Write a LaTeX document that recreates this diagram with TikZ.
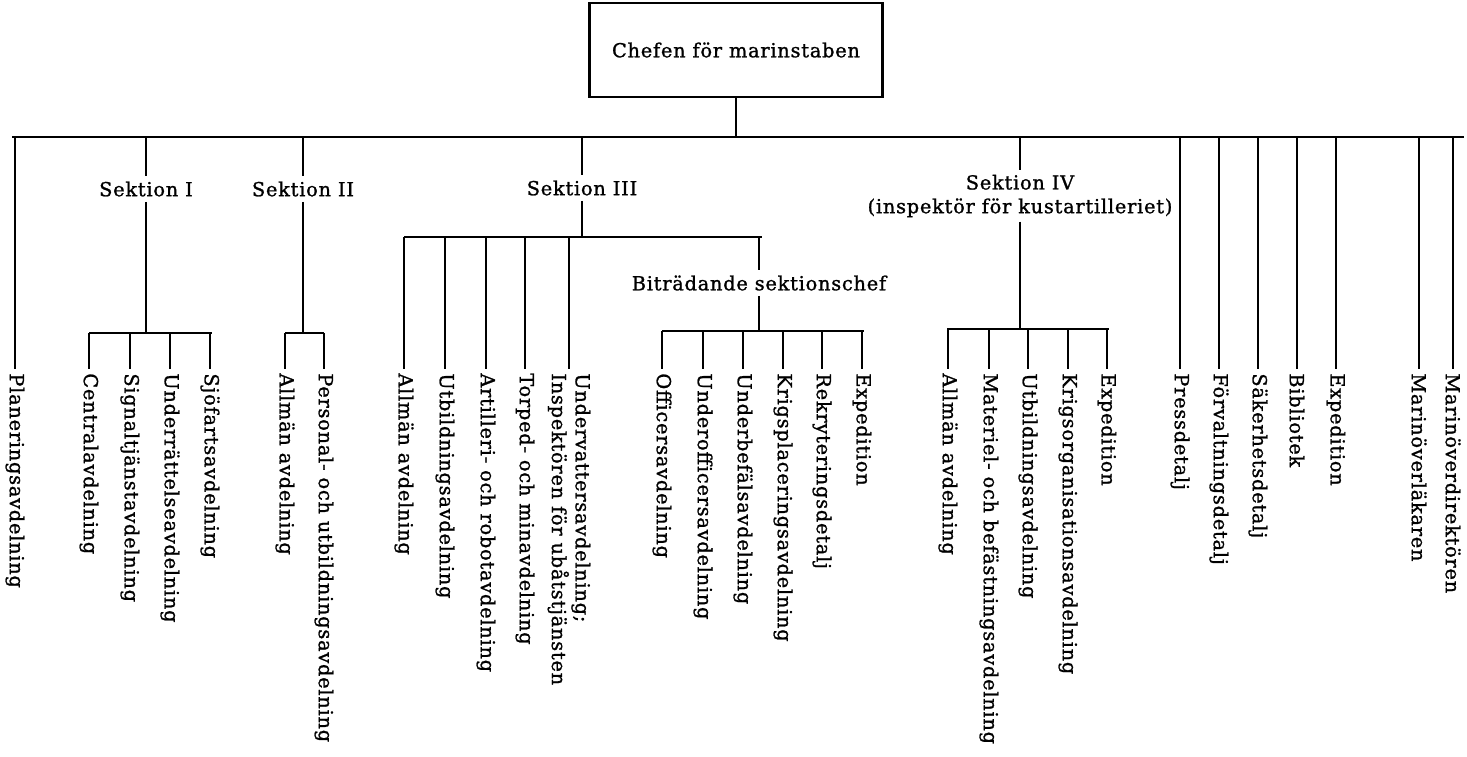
\documentclass[tikz,border=0pt]{standalone}
\usepackage{fontspec}
\setmainfont{DejaVu Serif}[LetterSpace=4, FakeBold=1.2]
\begin{document}
\begin{tikzpicture}[x=0.02cm, y=-0.02cm, line width=1pt,
    every node/.style={font=\fontsize{11}{13.5}\selectfont},
    unit/.style={rotate=-90, anchor=west, inner sep=2pt, align=left},
    head/.style={inner sep=2.5pt, align=center}]
  \useasboundingbox (0,0) rectangle (1467,757);

  % chief and the main bar
  \node[draw, line width=1.3pt, minimum width=5.86cm, minimum height=1.88cm] (chef) at (736,50) {Chefen för marinstaben};
  \coordinate (busL) at (12,137);
  \coordinate (busR) at (1464,137);
  \draw (busL) -- (busR);
  \draw (chef.south) -- (chef.south |- busL);

  \node[unit] (plan) at (15,369) {Planeringsavdelning};
  \draw (plan.west |- busL) -- (plan.west);

  % Sektion I
  \node[head] (s1) at (146,189) {Sektion I};
  \coordinate (s1L) at (89,333);
  \coordinate (s1R) at (212,333);
  \draw (s1.north |- busL) -- (s1.north);
  \draw (s1.south) -- (s1.south |- s1L);
  \draw (s1L) -- (s1R);
  \node[unit] (cent) at (89,369) {Centralavdelning};
  \node[unit] (sign) at (130,369) {Signaltjänstavdelning};
  \node[unit] (undr) at (170,369) {Underrättelseavdelning};
  \node[unit] (sjof) at (210,369) {Sjöfartsavdelning};
  \draw (cent.west |- s1L) -- (cent.west);
  \draw (sign.west |- s1L) -- (sign.west);
  \draw (undr.west |- s1L) -- (undr.west);
  \draw (sjof.west |- s1L) -- (sjof.west);

  % Sektion II
  \node[head] (s2) at (303,189) {Sektion II};
  \coordinate (s2L) at (285,333);
  \coordinate (s2R) at (324,333);
  \draw (s2.north |- busL) -- (s2.north);
  \draw (s2.south) -- (s2.south |- s2L);
  \draw (s2L) -- (s2R);
  \node[unit] (allm2) at (285,369) {Allmän avdelning};
  \node[unit] (pers) at (324,369) {Personal- och utbildningsavdelning};
  \draw (allm2.west |- s2L) -- (allm2.west);
  \draw (pers.west |- s2L) -- (pers.west);

  % Sektion III
  \node[head] (s3) at (582,188) {Sektion III};
  \coordinate (s3L) at (404,237);
  \coordinate (s3R) at (762,237);
  \draw (s3.north |- busL) -- (s3.north);
  \draw (s3.south) -- (s3.south |- s3L);
  \draw (s3L) -- (s3R);
  \node[unit] (allm3) at (404,369) {Allmän avdelning};
  \node[unit] (utb3) at (445,369) {Utbildningsavdelning};
  \node[unit] (art) at (486,369) {Artilleri- och robotavdelning};
  \node[unit] (torp) at (525,369) {Torped- och minavdelning};
  \node[unit] (ubat) at (569,369) {Undervattersavdelning;\\Inspektören för ubåtstjänsten};
  \draw (allm3.west |- s3L) -- (allm3.west);
  \draw (utb3.west |- s3L) -- (utb3.west);
  \draw (art.west |- s3L) -- (art.west);
  \draw (torp.west |- s3L) -- (torp.west);
  \draw (ubat.west |- s3L) -- (ubat.west);

  \node[head] (bitr) at (759,283) {Biträdande sektionschef};
  \coordinate (btL) at (662,331);
  \coordinate (btR) at (864,331);
  \draw (bitr.north |- s3L) -- (bitr.north);
  \draw (bitr.south) -- (bitr.south |- btL);
  \draw (btL) -- (btR);
  \node[unit] (offi) at (662,369) {Officersavdelning};
  \node[unit] (uoff) at (703,369) {Underofficersavdelning};
  \node[unit] (ubef) at (743,369) {Underbefälsavdelning};
  \node[unit] (krpl) at (783,369) {Krigsplaceringsavdelning};
  \node[unit] (rekr) at (822,369) {Rekryteringsdetalj};
  \node[unit] (exp3) at (862,369) {Expedition};
  \draw (offi.west |- btL) -- (offi.west);
  \draw (uoff.west |- btL) -- (uoff.west);
  \draw (ubef.west |- btL) -- (ubef.west);
  \draw (krpl.west |- btL) -- (krpl.west);
  \draw (rekr.west |- btL) -- (rekr.west);
  \draw (exp3.west |- btL) -- (exp3.west);

  % Sektion IV
  \node[head, inner sep=2pt] (s4) at (1020,196) {Sektion IV\\(inspektör för kustartilleriet)};
  \coordinate (s4L) at (947,329);
  \coordinate (s4R) at (1109,329);
  \draw (s4.north |- busL) -- (s4.north);
  \draw (s4.south) -- (s4.south |- s4L);
  \draw (s4L) -- (s4R);
  \node[unit] (allm4) at (948,369) {Allmän avdelning};
  \node[unit] (mate) at (989,369) {Materiel- och befästningsavdelning};
  \node[unit] (utb4) at (1028,369) {Utbildningsavdelning};
  \node[unit] (krorg) at (1068,369) {Krigsorganisationsavdelning};
  \node[unit] (exp4) at (1107,369) {Expedition};
  \draw (allm4.west |- s4L) -- (allm4.west);
  \draw (mate.west |- s4L) -- (mate.west);
  \draw (utb4.west |- s4L) -- (utb4.west);
  \draw (krorg.west |- s4L) -- (krorg.west);
  \draw (exp4.west |- s4L) -- (exp4.west);

  % staff units under the chief
  \node[unit] (press) at (1180,369) {Pressdetalj};
  \node[unit] (forv) at (1219,369) {Förvaltningsdetalj};
  \node[unit] (sak) at (1258,369) {Säkerhetsdetalj};
  \node[unit] (bibl) at (1297,369) {Bibliotek};
  \node[unit] (exp) at (1336,369) {Expedition};
  \node[unit] (lak) at (1419,369) {Marinöverläkaren};
  \node[unit] (dir) at (1453,369) {Marinöverdirektören};
  \draw (press.west |- busL) -- (press.west);
  \draw (forv.west |- busL) -- (forv.west);
  \draw (sak.west |- busL) -- (sak.west);
  \draw (bibl.west |- busL) -- (bibl.west);
  \draw (exp.west |- busL) -- (exp.west);
  \draw (lak.west |- busL) -- (lak.west);
  \draw (dir.west |- busL) -- (dir.west);
\end{tikzpicture}
\end{document}
